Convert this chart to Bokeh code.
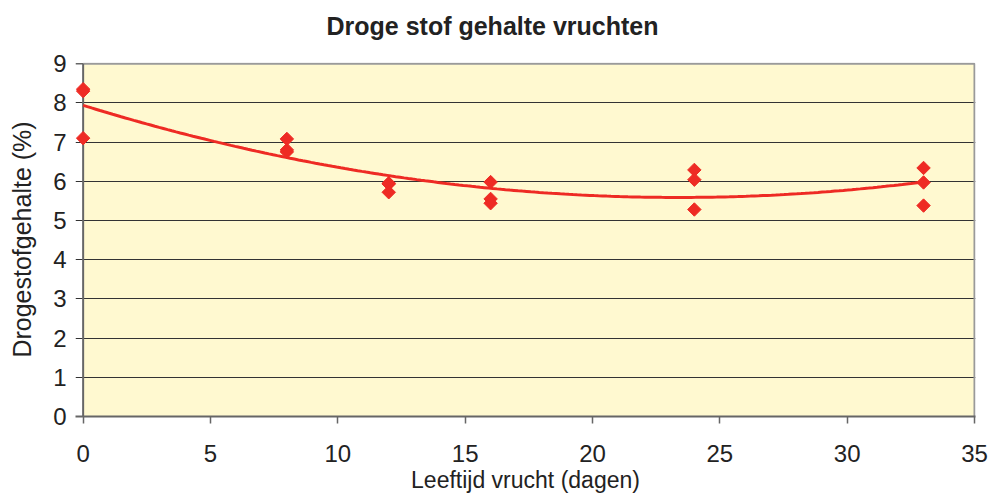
import numpy as np
from bokeh.plotting import figure
from bokeh.models import FixedTicker, Range1d, Title
from bokeh.embed import file_html
from bokeh.resources import INLINE

# data
dag = [0, 0, 0, 8, 8, 8, 12, 12, 12, 16, 16, 16, 24, 24, 24, 33, 33, 33]
droge_stof = [8.35, 8.30, 7.10, 7.08, 6.80, 6.75, 5.95, 5.93, 5.72,
              5.98, 5.55, 5.44, 6.29, 6.04, 5.28, 6.34, 5.97, 5.38]
x_ticks = [0, 5, 10, 15, 20, 25, 30, 35]
y_ticks = [0, 1, 2, 3, 4, 5, 6, 7, 8, 9]
title_text = "Droge stof gehalte vruchten"
x_label = "Leeftijd vrucht (dagen)"
y_label = "Drogestofgehalte (%)"

RED = "#EE2B24"
FONT = "Liberation Sans"
TXT = "#222222"
AXIS = "#666666"
X0, X1 = x_ticks[0], x_ticks[-1]
Y0, Y1 = y_ticks[0], y_ticks[-1]
XPAD = 0.3

p = figure(width=988, height=495, output_backend="svg", toolbar_location=None,
           title=None,
           x_range=Range1d(X0 - XPAD, X1 + 0.04), y_range=Range1d(Y0, Y1 + 0.03),
           min_border_left=75, min_border_right=13, min_border_top=62, min_border_bottom=78,
           background_fill_color="white", border_fill_color="white")
p.outline_line_color = None

# plot area background and top / right border
p.quad(left=[X0], right=[X1], bottom=[Y0], top=[Y1], fill_color="#FFF9D0",
       line_color=None, level="underlay")
p.line([X0, X1, X1], [Y1, Y1, Y0], line_color="#9A9A9A", line_width=2)
# tick stub at the top of the value axis, and the value axis line at x = 0
p.line([X0 - XPAD, X0], [Y1, Y1], line_color=AXIS, line_width=1.5)
p.line([X0, X0], [Y0, Y1], line_color=AXIS, line_width=2)

# polynomial (order 2) trendline fitted to the measurements
coef = np.polyfit(dag, droge_stof, 2)
tx = np.linspace(min(dag), max(dag), 200)
p.line(tx, np.polyval(coef, tx), line_color=RED, line_width=3)

p.scatter(dag, droge_stof, marker="square", size=9.5, angle=np.pi / 4,
          fill_color=RED, line_color=RED)

p.xaxis.ticker = FixedTicker(ticks=x_ticks)
p.yaxis.ticker = FixedTicker(ticks=y_ticks)
p.xgrid.visible = False
p.ygrid.ticker = FixedTicker(ticks=y_ticks[1:-1])
p.ygrid.grid_line_color = "#333333"
p.ygrid.grid_line_width = 1

for ax in (p.xaxis, p.yaxis):
    ax.major_tick_in = 0
    ax.minor_tick_line_color = None
    ax.major_label_text_font = FONT
    ax.major_label_text_font_size = "24px"
    ax.major_label_text_color = TXT
    ax.axis_label_text_font = FONT
    ax.axis_label_text_font_style = "normal"
    ax.axis_label_text_color = TXT

p.xaxis.axis_line_color = AXIS
p.xaxis.axis_line_width = 2
p.xaxis.major_tick_line_color = AXIS
p.xaxis.major_tick_line_width = 1.5
p.xaxis.major_tick_out = 7
p.xaxis.major_label_standoff = 21
p.xaxis.axis_label = x_label
p.xaxis.axis_label_text_font_size = "23px"
p.xaxis.axis_label_standoff = 2

p.yaxis.axis_line_color = None
p.yaxis.major_tick_line_color = None
p.yaxis.major_tick_out = 0
p.yaxis.major_label_standoff = 9
p.yaxis.axis_label = y_label
p.yaxis.axis_label_text_font_size = "25px"
p.yaxis.axis_label_standoff = 14

# spacer between the plot area and the title, then the title itself
p.add_layout(Title(text=" ", text_font_size="1px", standoff=20), "above")
p.add_layout(Title(text=title_text, align="left", offset=251, standoff=0,
                   text_font=FONT, text_font_size="25px", text_font_style="bold",
                   text_color=TXT), "above")

open("out.html", "w").write(file_html(p, INLINE))
